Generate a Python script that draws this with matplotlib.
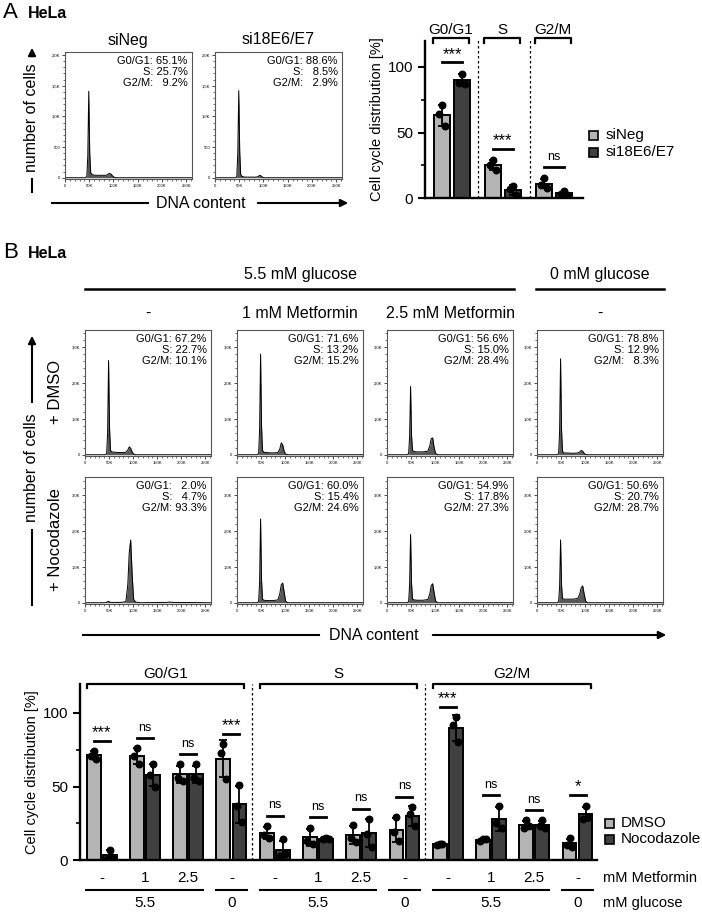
import numpy as np
import matplotlib
matplotlib.use('Agg')
import matplotlib.pyplot as plt
from matplotlib.patches import Rectangle
from matplotlib.ticker import MultipleLocator

plt.rcParams['font.family'] = ['Liberation Sans', 'DejaVu Sans']

# ---- histogram data (DNA content in K, counts in K) ----
hist_x = [0, 42, 45, 47, 49, 51, 53, 56, 62, 75, 85, 89, 92, 95, 98, 101, 105, 115, 170, 176, 182, 262]
hA_siNeg = [0, 0, .02, .35, 1.41, .40, .08, .05, .04, .04, .04, .06, .07, .06, .03, .01, 0, 0, 0, 0, 0, 0]
hA_si18 = [0, 0, .02, .40, 1.42, .42, .05, .02, .01, .01, .01, .02, .04, .03, .01, 0, 0, 0, 0, 0, 0, 0]
hB_dmso = [
    [0, 0, .03, .60, 2.62, .75, .12, .08, .07, .06, .07, .13, .22, .18, .08, .02, 0, 0, 0, 0, 0, 0],
    [0, 0, .03, .70, 2.80, .80, .12, .07, .06, .05, .06, .16, .33, .28, .10, .02, 0, 0, 0, 0, 0, 0],
    [0, 0, .03, .50, 1.90, .55, .12, .09, .08, .08, .10, .25, .45, .47, .20, .04, 0, 0, 0, 0, 0, 0],
    [0, 0, .03, .65, 2.67, .70, .10, .05, .05, .04, .05, .08, .12, .10, .04, .01, 0, 0, 0, 0, 0, 0],
]
hB_noc = [
    [0, 0, .01, .03, .04, .02, .01, .01, .01, .01, .03, .50, 1.40, 1.75, .80, .10, .02, 0, .01, .02, .01, 0],
    [0, 0, .03, .60, 2.33, .65, .10, .07, .06, .06, .08, .25, .50, .55, .30, .05, 0, 0, 0, 0, 0, 0],
    [0, 0, .03, .50, 1.90, .55, .10, .08, .07, .07, .09, .25, .48, .53, .28, .05, 0, 0, 0, 0, 0, 0],
    [0, 0, .03, .45, 1.75, .50, .12, .10, .10, .10, .12, .25, .42, .47, .25, .05, 0, 0, 0, 0, 0, 0],
]
statsA = ["G0/G1: 65.1%\nS: 25.7%\nG2/M:   9.2%", "G0/G1: 88.6%\nS:   8.5%\nG2/M:   2.9%"]
statsB_dmso = ["G0/G1: 67.2%\nS: 22.7%\nG2/M: 10.1%", "G0/G1: 71.6%\nS: 13.2%\nG2/M: 15.2%",
               "G0/G1: 56.6%\nS: 15.0%\nG2/M: 28.4%", "G0/G1: 78.8%\nS: 12.9%\nG2/M:   8.3%"]
statsB_noc = ["G0/G1:   2.0%\nS:   4.7%\nG2/M: 93.3%", "G0/G1: 60.0%\nS: 15.4%\nG2/M: 24.6%",
              "G0/G1: 54.9%\nS: 17.8%\nG2/M: 27.3%", "G0/G1: 50.6%\nS: 20.7%\nG2/M: 28.7%"]
col_titles = ['-', '1 mM Metformin', '2.5 mM Metformin', '-']

# ---- panel A bars ----
a_groups = ['G0/G1', 'S', 'G2/M']
a_siNeg = [[71, 64, 55], [29, 25, 21], [15, 10, 8]]
a_si18 = [[95, 88, 87], [9, 7, 2], [5, 3, 2.5]]
a_sig = ['***', '***', 'ns']

# ---- panel B bars ----
b_phases = ['G0/G1', 'S', 'G2/M']
b_metformin = ['-', '1', '2.5', '-']
b_dmso = [[74, 71, 69], [76, 71, 65], [65, 56, 54], [79, 73, 55],
          [23, 17, 15], [22, 13, 11], [24, 15, 12], [29, 19, 13],
          [11, 10, 11], [14, 13, 14], [27, 22, 23], [15, 10, 9]]
b_noc = [[7, 1, 2], [65, 58, 50], [65, 56, 54], [51, 37, 26],
         [14, 3, 4], [15, 14, 14], [28, 18, 9], [36, 31, 23],
         [97, 92, 80], [37, 25, 22], [27, 23, 22], [37, 28, 29]]
b_sig = ['***', 'ns', 'ns', '***', 'ns', 'ns', 'ns', 'ns', '***', 'ns', 'ns', '*']

LIGHT = '#b4b4b4'
DARK = '#404040'
W, H = 702, 914
fig = plt.figure(figsize=(W / 100, H / 100), dpi=100)


def px_ax(l, t, r, b):
    return fig.add_axes([l / W, 1 - b / H, (r - l) / W, (b - t) / H])


ov = fig.add_axes([0, 0, 1, 1])
ov.set_xlim(0, W)
ov.set_ylim(H, 0)
ov.axis('off')


def draw_hist(ax, counts, stats, ymax, ytick_vals, ytick_labels):
    x = np.array(hist_x) * 1000
    y = np.array(counts) * 1000
    ax.fill_between(x, y, color='#585858', lw=0)
    ax.plot(x, y, color='black', lw=0.7)
    ax.set_xlim(0, 262000)
    ax.set_ylim(-ymax * 0.01, ymax)
    ax.set_xticks([0, 50000, 100000, 150000, 200000, 250000])
    ax.set_xticklabels(['0', '50K', '100K', '150K', '200K', '250K'])
    ax.xaxis.set_minor_locator(MultipleLocator(10000))
    ax.set_yticks(ytick_vals)
    ax.set_yticklabels(ytick_labels)
    ax.yaxis.set_minor_locator(MultipleLocator(ytick_vals[1] / 5))
    ax.tick_params(labelsize=3, length=2, width=0.5, pad=1.5)
    ax.tick_params(which='minor', length=1.2, width=0.4)
    for s in ax.spines.values():
        s.set_linewidth(0.8)
        s.set_color('#555555')
    ax.text(0.965, 0.965, stats, transform=ax.transAxes, ha='right', va='top',
            multialignment='right', fontsize=8, linespacing=1.1)


def vert_axis_label(x, y_bot0, y_bot1, y_text, y_arr0, y_arr1):
    ov.plot([x, x], [y_bot0, y_bot1], color='black', lw=1.5)
    ov.text(x, y_text, 'number of cells', rotation=90, ha='center', va='center', fontsize=11.5)
    ov.annotate('', xy=(x, y_arr1), xytext=(x, y_arr0),
                arrowprops=dict(arrowstyle='-|>', lw=1.5, color='black', mutation_scale=11))


def horiz_axis_label(y, x0, x1, x_text, x2, x3):
    ov.plot([x0, x1], [y, y], color='black', lw=1.5)
    ov.text(x_text, y, 'DNA content', ha='center', va='center', fontsize=11.5)
    ov.annotate('', xy=(x3, y), xytext=(x2, y),
                arrowprops=dict(arrowstyle='-|>', lw=1.5, color='black', mutation_scale=11))


def draw_pair(ax, xc, off, width, reps_a, reps_b):
    for reps, dx, col in [(reps_a, -off, LIGHT), (reps_b, off, DARK)]:
        reps = np.array(reps, dtype=float)
        m = reps.mean()
        sd = reps.std(ddof=1)
        ax.bar(xc + dx, m, width=width, color=col, edgecolor='black', lw=1.4, zorder=2)
        ax.errorbar(xc + dx, m, yerr=sd, color='black', lw=1.3, capsize=3, capthick=1.3, zorder=3)
        ax.scatter(xc + dx + np.array([0, -0.06, 0.06]), reps, s=22, color='black', zorder=4)


def sig_mark(ax, x0, x1, y, label):
    ax.plot([x0, x1], [y, y], color='black', lw=2, clip_on=False)
    if label.startswith('*'):
        ax.text((x0 + x1) / 2, y + 0.5, label, ha='center', va='bottom', fontsize=12, clip_on=False)
    else:
        ax.text((x0 + x1) / 2, y + 3, label, ha='center', va='bottom', fontsize=9, clip_on=False)


def bracket(ax, x0, x1, y_top, y_tip, label, y_label):
    ax.plot([x0, x0, x1, x1], [y_tip, y_top, y_top, y_tip], color='black', lw=1.6, clip_on=False)
    ax.text((x0 + x1) / 2, y_label, label, ha='center', va='center', fontsize=11)


def style_bar_axes(ax):
    ax.set_ylim(0, 120)
    ax.set_yticks([0, 50, 100])
    ax.yaxis.set_minor_locator(MultipleLocator(25))
    ax.set_xticks([])
    for s in ['top', 'right']:
        ax.spines[s].set_visible(False)
    for s in ['left', 'bottom']:
        ax.spines[s].set_linewidth(1.7)
    ax.tick_params(axis='y', labelsize=11, width=1.5, length=5)
    ax.tick_params(axis='y', which='minor', width=1.2, length=3)
    ax.set_ylabel('Cell cycle distribution [%]', fontsize=10.5, labelpad=3)


# ================= Panel A =================
ov.text(3, 13, 'A', fontsize=16, va='center', ha='left')
ov.text(28, 14, 'HeLa', fontsize=11.5, fontweight='bold', va='center', ha='left')

for i, (lft, counts, title) in enumerate([(65, hA_siNeg, 'siNeg'), (215, hA_si18, 'si18E6/E7')]):
    ax = px_ax(lft, 52, lft + 127, 179)
    draw_hist(ax, counts, statsA[i], 2050, [0, 500, 1000, 1500, 2000], ['0', '500', '1,0K', '1,5K', '2,0K'])
    ov.text(lft + 63, 40, title, ha='center', va='center', fontsize=11.5)

vert_axis_label(32, 192, 179, 118, 59, 45)
horiz_axis_label(203, 52, 148, 201, 255, 351)

axA = px_ax(425, 40.8, 583, 198)
style_bar_axes(axA)
axA.set_xlim(-0.53, 2.57)
for g in range(3):
    draw_pair(axA, g, 0.2, 0.31, a_siNeg[g], a_si18[g])
    top = max(max(a_siNeg[g]), max(a_si18[g])) + 8.5
    sig_mark(axA, g - 0.2, g + 0.2, top, a_sig[g])
    bracket(axA, g - 0.37, g + 0.33, 122, 118, a_groups[g], 128)
for xd in [0.51, 1.53]:
    axA.plot([xd, xd], [0, 121], color='black', lw=0.9, ls=(0, (2, 2)), clip_on=False)

for yy, lab, col in [(135, 'siNeg', LIGHT), (152, 'si18E6/E7', DARK)]:
    ov.add_patch(Rectangle((589, yy - 4.5), 9, 9, facecolor=col, edgecolor='black', lw=1.2))
    ov.text(606, yy, lab, va='center', ha='left', fontsize=11)

# ================= Panel B =================
ov.text(3, 252, 'B', fontsize=16, va='center', ha='left')
ov.text(28, 253, 'HeLa', fontsize=11.5, fontweight='bold', va='center', ha='left')

ov.text(300, 275, '5.5 mM glucose', ha='center', va='center', fontsize=11.5)
ov.plot([85, 514], [289, 289], color='black', lw=1.8)
ov.text(600, 275, '0 mM glucose', ha='center', va='center', fontsize=11.5)
ov.plot([536, 664], [289, 289], color='black', lw=1.8)

col_left = [85, 237, 387, 537]
for c in range(4):
    ov.text(col_left[c] + 63, 313, col_titles[c], ha='center', va='center', fontsize=11.5)
    ax = px_ax(col_left[c], 330, col_left[c] + 126, 456)
    draw_hist(ax, hB_dmso[c], statsB_dmso[c], 3470, [0, 1000, 2000, 3000], ['0', '1,0K', '2,0K', '3,0K'])
    ax = px_ax(col_left[c], 477, col_left[c] + 126, 604)
    draw_hist(ax, hB_noc[c], statsB_noc[c], 3500, [0, 1000, 2000, 3000], ['0', '1,0K', '2,0K', '3,0K'])

ov.text(55, 392, '+ DMSO', rotation=90, ha='center', va='center', fontsize=12)
ov.text(55, 540, '+ Nocodazole', rotation=90, ha='center', va='center', fontsize=12)
vert_axis_label(32, 605, 530, 468, 405, 333)
horiz_axis_label(635, 83, 319, 374, 430, 669)

axB = px_ax(80, 683.6, 597, 860)
style_bar_axes(axB)
axB.set_xlim(-0.5, 11.45)
for i in range(12):
    draw_pair(axB, i, 0.185, 0.32, b_dmso[i], b_noc[i])
    top = max(max(b_dmso[i]), max(b_noc[i])) + 7
    sig_mark(axB, i - 0.185, i + 0.185, top, b_sig[i])
for g in range(3):
    bracket(axB, 4 * g - 0.34, 4 * g + 3.3, 120, 117, b_phases[g], 126.5)
for xd in [3.47, 7.47]:
    axB.plot([xd, xd], [0, 120], color='black', lw=0.9, ls=(0, (2, 2)), clip_on=False)

tr = axB.get_xaxis_transform()
for i in range(12):
    axB.text(i, -0.10, b_metformin[i % 4], transform=tr, ha='center', va='center', fontsize=11)
for g in range(3):
    x0 = 4 * g
    axB.plot([x0 - 0.35, x0 + 2.35], [-0.17, -0.17], transform=tr, color='black', lw=1.5, clip_on=False)
    axB.plot([x0 + 2.65, x0 + 3.35], [-0.17, -0.17], transform=tr, color='black', lw=1.5, clip_on=False)
    axB.text(x0 + 1, -0.245, '5.5', transform=tr, ha='center', va='center', fontsize=11)
    axB.text(x0 + 3, -0.245, '0', transform=tr, ha='center', va='center', fontsize=11)
axB.text(11.58, -0.10, 'mM Metformin', transform=tr, ha='left', va='center', fontsize=10.5)
axB.text(11.58, -0.245, 'mM glucose', transform=tr, ha='left', va='center', fontsize=10.5)

for yy, lab, col in [(823, 'DMSO', LIGHT), (839, 'Nocodazole', DARK)]:
    ov.add_patch(Rectangle((605, yy - 4.5), 9, 9, facecolor=col, edgecolor='black', lw=1.2))
    ov.text(621, yy, lab, va='center', ha='left', fontsize=11)

fig.savefig('out.png', dpi=100)
